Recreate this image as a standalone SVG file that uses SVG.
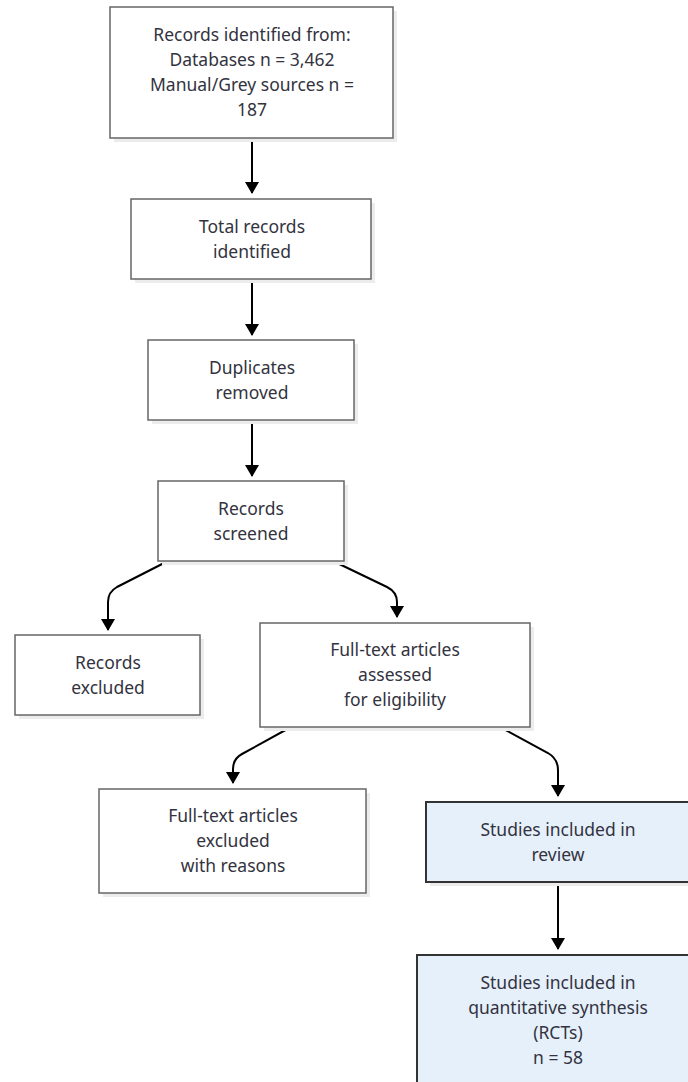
<svg xmlns="http://www.w3.org/2000/svg" width="688" height="1082" viewBox="0 0 688 1082">
<defs>
<style>
.shadow{fill:#ececec;stroke:none}
.box{fill:#ffffff;stroke:#666666;stroke-width:1.5}
.hl{fill:#e6f0fb;stroke:#333333;stroke-width:2}
.t{font-family:"Noto Sans","Liberation Sans",sans-serif;font-size:17.5px;fill:#333340;text-anchor:middle}
.edge{fill:none;stroke:#000000;stroke-width:2}
</style>
<marker id="arrow" markerUnits="userSpaceOnUse" viewBox="0 0 12 14" refX="11" refY="7" markerWidth="12" markerHeight="14" orient="auto">
<polygon points="0,0 12,7 0,14" fill="#000000"/>
</marker>
</defs>
<rect width="688" height="1082" fill="#ffffff"/>
<g id="connectors">
<path class="edge" d="M252,138 L252,193" marker-end="url(#arrow)"/>
<path class="edge" d="M252,279 L252,335" marker-end="url(#arrow)"/>
<path class="edge" d="M252,420 L252,476" marker-end="url(#arrow)"/>
<path class="edge" d="M168,561 L117,587 Q108,592 108,602 L108,630" marker-end="url(#arrow)"/>
<path class="edge" d="M333,561 L387,587 Q397,592 397,602 L397,617" marker-end="url(#arrow)"/>
<path class="edge" d="M291,727 L242,754 Q233,759 233,769 L233,783" marker-end="url(#arrow)"/>
<path class="edge" d="M500,727 L548,753 Q558,759 558,770 L558,796" marker-end="url(#arrow)"/>
<path class="edge" d="M558,882 L558,949" marker-end="url(#arrow)"/>
</g>
<g id="identified">
<rect class="shadow" x="114" y="11" width="283" height="131"/>
<rect class="box" x="110" y="7" width="283" height="131"/>
<text class="t" x="252" y="41">Records identified from:</text>
<text class="t" x="252" y="66">Databases n = 3,462</text>
<text class="t" x="252" y="91">Manual/Grey sources n =</text>
<text class="t" x="252" y="116">187</text>
</g>
<g id="total">
<rect class="shadow" x="135" y="203" width="240" height="80"/>
<rect class="box" x="131" y="199" width="240" height="80"/>
<text class="t" x="252" y="233">Total records</text>
<text class="t" x="252" y="258">identified</text>
</g>
<g id="duplicates">
<rect class="shadow" x="152" y="344" width="206" height="80"/>
<rect class="box" x="148" y="340" width="206" height="80"/>
<text class="t" x="252" y="374">Duplicates</text>
<text class="t" x="252" y="399">removed</text>
</g>
<g id="screened">
<rect class="shadow" x="162" y="485" width="186" height="80"/>
<rect class="box" x="158" y="481" width="186" height="80"/>
<text class="t" x="251" y="515">Records</text>
<text class="t" x="251" y="540">screened</text>
</g>
<g id="excluded">
<rect class="shadow" x="19" y="639" width="185" height="80"/>
<rect class="box" x="15" y="635" width="185" height="80"/>
<text class="t" x="108" y="669">Records</text>
<text class="t" x="108" y="694">excluded</text>
</g>
<g id="fulltext">
<rect class="shadow" x="264" y="627" width="270" height="104"/>
<rect class="box" x="260" y="623" width="270" height="104"/>
<text class="t" x="395" y="656">Full-text articles</text>
<text class="t" x="395" y="681">assessed</text>
<text class="t" x="395" y="706">for eligibility</text>
</g>
<g id="ftexcluded">
<rect class="shadow" x="103" y="793" width="267" height="104"/>
<rect class="box" x="99" y="789" width="267" height="104"/>
<text class="t" x="233" y="822">Full-text articles</text>
<text class="t" x="233" y="847">excluded</text>
<text class="t" x="233" y="872">with reasons</text>
</g>
<g id="included">
<rect class="shadow" x="430" y="806" width="264" height="80"/>
<rect class="hl" x="426" y="802" width="264" height="80"/>
<text class="t" x="558" y="836">Studies included in</text>
<text class="t" x="558" y="861">review</text>
</g>
<g id="quantitative">
<rect class="shadow" x="421" y="959" width="282" height="132"/>
<rect class="hl" x="417" y="955" width="282" height="132"/>
<text class="t" x="558" y="989">Studies included in</text>
<text class="t" x="558" y="1014">quantitative synthesis</text>
<text class="t" x="558" y="1039">(RCTs)</text>
<text class="t" x="558" y="1064">n = 58</text>
</g>
</svg>
